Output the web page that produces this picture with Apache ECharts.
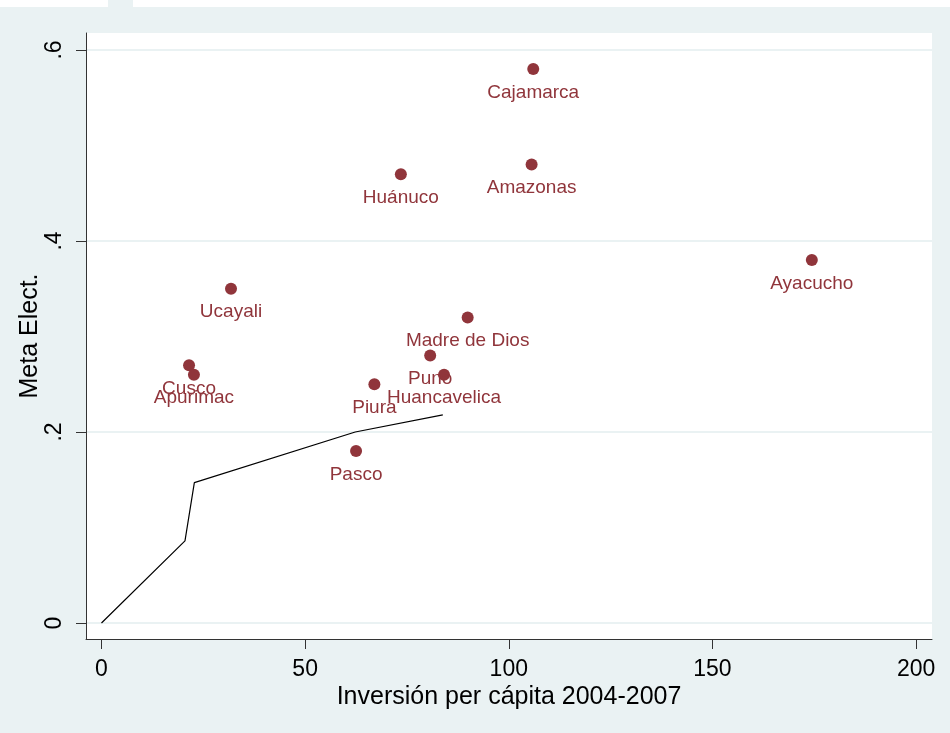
<!DOCTYPE html>
<html>
<head>
<meta charset="utf-8">
<script src="https://cdn.jsdelivr.net/npm/echarts@6/dist/echarts.min.js"></script>
<style>
html,body{margin:0;padding:0;background:#eaf2f3;}
#c{width:950px;height:733px;}
</style>
</head>
<body>
<div id="c"></div>
<script>
// Data
var names = ['Cajamarca','Amazonas','Huánuco','Ayacucho','Ucayali','Madre de Dios','Puno','Huancavelica','Piura','Cusco','Apurimac','Pasco'];
var inversion = [106.0,105.6,73.5,174.4,31.8,89.9,80.7,84.1,67.0,21.5,22.7,62.5];
var meta = [0.58,0.48,0.47,0.38,0.35,0.32,0.28,0.26,0.25,0.27,0.26,0.18];
var lineX = [0, 20.5, 22.8, 62.3, 83.8];
var lineY = [0, 0.086, 0.147, 0.200, 0.218];
var xTicks = [0, 50, 100, 150, 200];
var yTicks = [0, 0.2, 0.4, 0.6];
var yTickLabels = ['0', '.2', '.4', '.6'];

var FONT = '"Liberation Sans", Arial, sans-serif';
var RED = '#90353b';

var scatterData = names.map(function (n, i) { return { name: n, value: [inversion[i], meta[i]] }; });
var lineData = lineX.map(function (x, i) { return [x, lineY[i]]; });

var chart = echarts.init(document.getElementById('c'), null, { renderer: 'canvas' });
chart.setOption({
  animation: false,
  backgroundColor: '#eaf2f3',
  graphic: [
    { type: 'rect', shape: { x: 0, y: 0, width: 108, height: 7 }, style: { fill: '#ffffff' }, silent: true },
    { type: 'rect', shape: { x: 133, y: 0, width: 817, height: 7 }, style: { fill: '#ffffff' }, silent: true }
  ],
  grid: {
    left: 86, right: 18, top: 33, bottom: 94,
    show: true, backgroundColor: '#ffffff', borderWidth: 0
  },
  xAxis: {
    type: 'value', min: -3.8, max: 203.9,
    name: 'Inversión per cápita 2004-2007', nameLocation: 'middle', nameGap: 46, nameMoveOverlap: false,
    nameTextStyle: { fontFamily: FONT, fontSize: 25, color: '#000' },
    axisLine: { show: true, onZero: false, lineStyle: { color: '#333', width: 1 } },
    axisTick: { show: true, length: 10, customValues: xTicks, lineStyle: { color: '#333' } },
    axisLabel: { customValues: xTicks, margin: 19, fontFamily: FONT, fontSize: 23, color: '#000' },
    splitLine: { show: false }
  },
  yAxis: {
    type: 'value', min: -0.01675, max: 0.6178,
    name: 'Meta Elect.', nameLocation: 'middle', nameGap: 43, nameRotate: 90, nameMoveOverlap: false,
    nameTextStyle: { fontFamily: FONT, fontSize: 25, color: '#000' },
    axisLine: { show: true, onZero: false, lineStyle: { color: '#333', width: 1 } },
    axisTick: { show: true, length: 10, customValues: yTicks, lineStyle: { color: '#333' } },
    axisLabel: {
      customValues: yTicks, rotate: 90, margin: 20, fontFamily: FONT, fontSize: 23, color: '#000',
      formatter: function (v) {
        for (var i = 0; i < yTicks.length; i++) { if (Math.abs(v - yTicks[i]) < 1e-9) return yTickLabels[i]; }
        return '';
      }
    },
    splitLine: { show: false }
  },
  series: [
    {
      type: 'line', data: [], silent: true, z: 0,
      markLine: {
        silent: true, symbol: ['none', 'none'], label: { show: false }, z: 0,
        lineStyle: { color: '#eaf2f3', width: 2, type: 'solid' },
        data: yTicks.map(function (v) { return { yAxis: v }; })
      }
    },
    {
      type: 'line', data: lineData, showSymbol: false, symbol: 'none',
      lineStyle: { color: '#000', width: 1.2 }, z: 6, silent: true
    },
    {
      type: 'scatter', data: scatterData, symbolSize: 12, z: 7,
      itemStyle: { color: RED, opacity: 1 },
      label: {
        show: true, position: 'bottom', distance: 8,
        formatter: '{b}', fontFamily: FONT, fontSize: 19, color: RED
      },
      labelLayout: { hideOverlap: false }
    }
  ]
});
</script>
</body>
</html>
